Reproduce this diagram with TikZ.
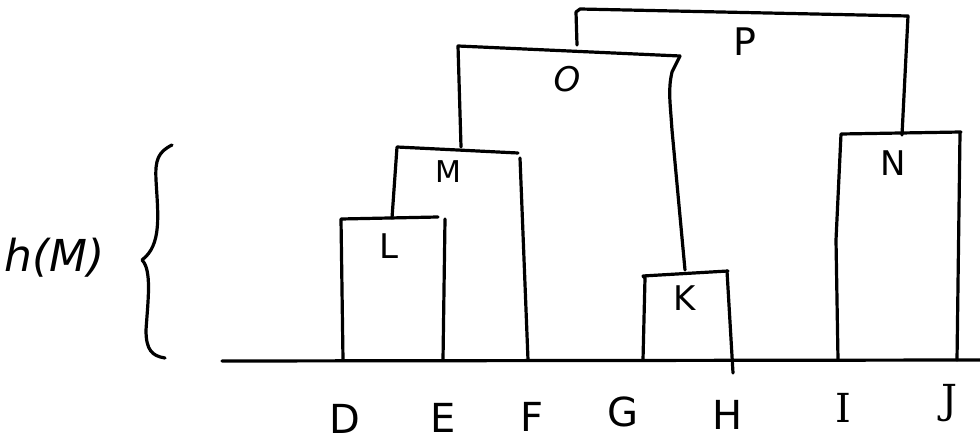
\documentclass[tikz,border=0pt]{standalone}
\usepackage{fontspec}
\setmainfont{DejaVu Sans}
\newfontfamily\serifletters{DejaVu Serif}
\begin{document}
\begin{tikzpicture}[x=1pt,y=-1pt,
  ln/.style={line width=3.2pt,line cap=round,line join=round},
  leaf/.style={font=\fontsize{40}{40}\selectfont,inner sep=0pt},
  inner/.style={font=\fontsize{34}{34}\selectfont,inner sep=0pt}]
\useasboundingbox (0,0) rectangle (980,443);
% baseline
\coordinate (b0) at (222,361);
\coordinate (b1) at (980,360);
\draw[ln] (b0) -- (b1);
% leaves on baseline
\coordinate (D) at (343,360);
\coordinate (E) at (443,360);
\coordinate (F) at (528,360);
\coordinate (G) at (643,360);
\coordinate (H) at (733,373);
\coordinate (I) at (838,360);
\coordinate (J) at (957,360);
% L
\draw[ln] (D) -- (341,219) -- (438,217);
\draw[ln] (E) -- (445,219);
% M
\draw[ln] (392,218) -- (397,147) -- (518,153);
\draw[ln] (F) -- (520,158);
% K
\draw[ln] (G) -- (645,278) -- (643,276) -- (728,271);
\draw[ln] (H) -- (727,271);
% O
\draw[ln] (461,147) -- (458,46) -- (680,56);
\draw[ln] (685,270) -- (672,130) .. controls (670,100) and (668,90) .. (672,72) -- (680,56);
% N
\draw[ln] (I) -- (836,240) -- (841,134) -- (961,132);
\draw[ln] (J) -- (960,133);
% P
\draw[ln] (577,45) -- (576,12) -- (580,9) -- (908,16) -- (902,135);
% labels of merges
\node[inner] (nL) at (389,246) {L};
\node[inner,font=\fontsize{30}{30}\selectfont] (nM) at (448,172) {M};
\node[inner] (nK) at (685,298) {K};
\node[inner,font=\fontsize{34}{34}\selectfont\itshape] (nO) at (567,79) {O};
\node[inner] (nN) at (893,163) {N};
\node[inner,font=\fontsize{38}{38}\selectfont] (nP) at (745,42) {P};
% leaf labels
\node[leaf] (lD) at (345,419) {D};
\node[leaf] (lE) at (443,418) {E};
\node[leaf] (lF) at (532,417) {F};
\node[leaf] (lG) at (623,412) {G};
\node[leaf] (lH) at (728,415) {H};
\node[leaf,font=\fontsize{40}{40}\selectfont\serifletters] (lI) at (843,408) {I};
\node[leaf,font=\fontsize{40}{40}\selectfont\serifletters] (lJ) at (950,403) {J};
% brace and h(M)
\draw[ln] (172,145) .. controls (158,152) and (155,160) .. (156,180)
  .. controls (158,215) and (162,245) .. (142,260)
  .. controls (152,270) and (148,300) .. (146,330)
  .. controls (146,350) and (152,356) .. (165,358);
\node[font=\fontsize{44}{44}\selectfont\itshape,inner sep=0pt] (hM) at (55,258) {h(M)};
\end{tikzpicture}
\end{document}
